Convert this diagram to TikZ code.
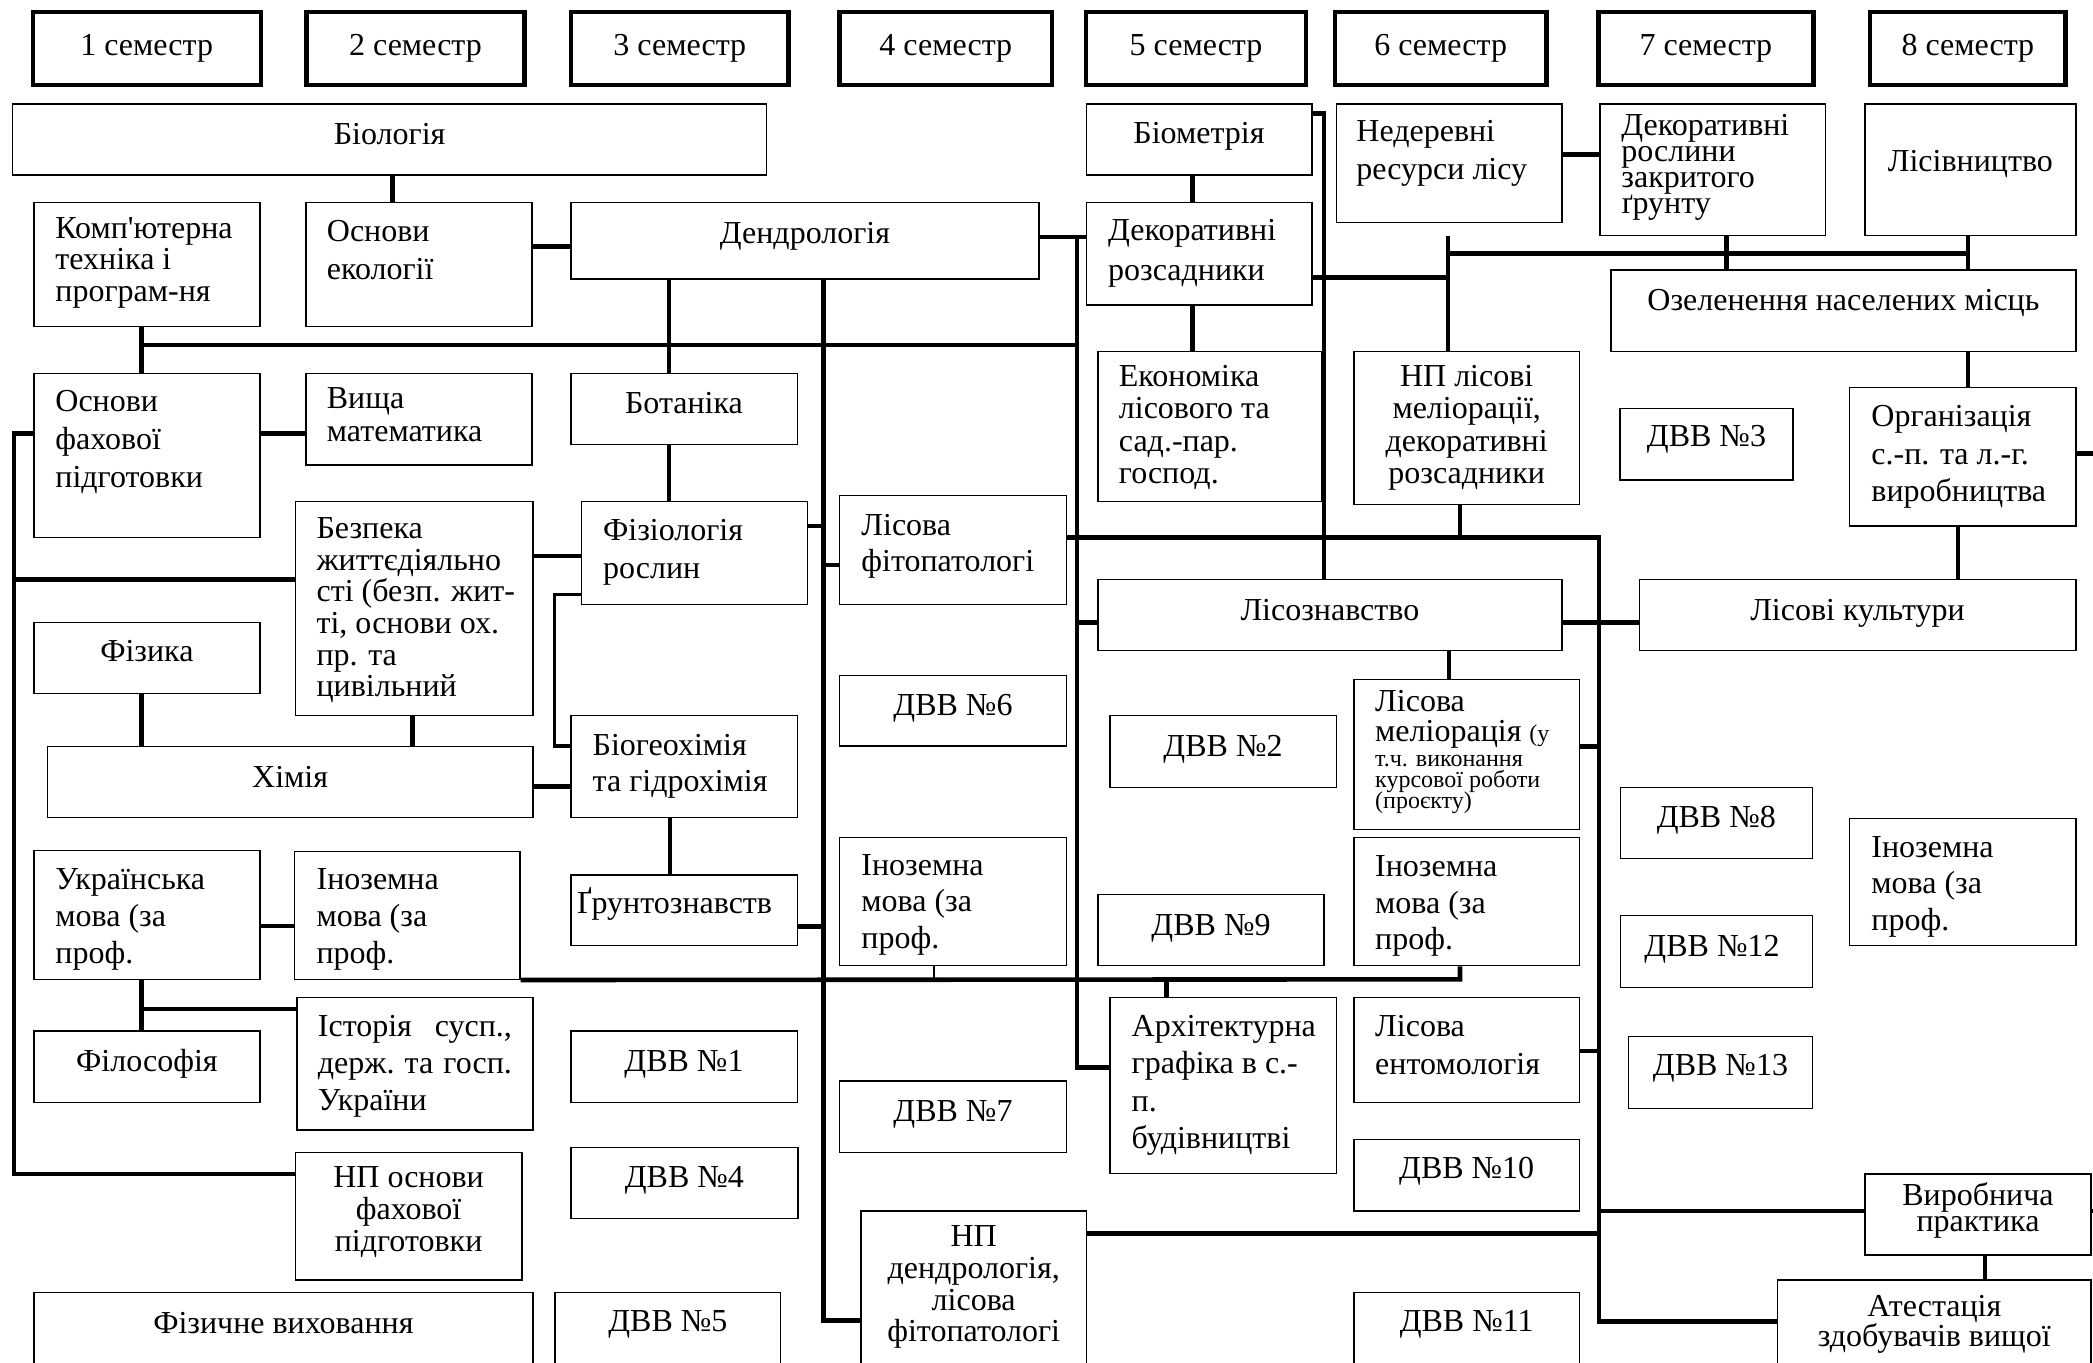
\documentclass[tikz,border=0pt]{standalone}
\usepackage{fontspec}
\setmainfont{Liberation Serif}[Ligatures=TeXOff]
\usetikzlibrary{fit}
\newcommand\mkbox[6][bx]{\node[#1, fit={(#3,#4) (#5,#6)}] (#2) {};}
\begin{document}
\begin{tikzpicture}[x=0.5pt,y=-0.5pt,
  bx/.style={draw, fill=white, line width=0.7pt, inner sep=0pt},
  sem/.style={draw, fill=white, line width=2.2pt, inner sep=0pt},
  conn/.style={line width=2.3pt, line join=miter},
  connm/.style={line width=1.7pt, line join=miter},
  connt/.style={line width=0.9pt},
  tl/.style={anchor=base west, align=flush left, inner sep=0pt, font={\fontsize{16}{#1}\selectfont\lineskiplimit=-50pt}},
  tl/.default=16,
  tc/.style={anchor=base, align=flush center, inner sep=0pt, font={\fontsize{16}{#1}\selectfont\lineskiplimit=-50pt}},
  tc/.default=16]
\useasboundingbox (0,0) rectangle (2093,1362);
\fill[white] (0,0) rectangle (2093,1362);
\clip (0,0) rectangle (2093,1362);

% ---------- semesters
\mkbox[sem]{s1}{32.7}{11.7}{260.7}{85}
\mkbox[sem]{s2}{306.5}{11.7}{524.5}{85}
\mkbox[sem]{s3}{571}{11.7}{788.6}{85}
\mkbox[sem]{s4}{839.6}{11.7}{1052}{85}
\mkbox[sem]{s5}{1085.8}{11.7}{1306.2}{85}
\mkbox[sem]{s6}{1335.2}{11.7}{1546.3}{85}
\mkbox[sem]{s7}{1598.4}{11.7}{1813.3}{85}
\mkbox[sem]{s8}{1870}{11.7}{2065.6}{85}
\node[tc, text width=110pt] (t-s1) at (146.7,55) {1 семестр};
\node[tc, text width=110pt] (t-s2) at (415.5,55) {2 семестр};
\node[tc, text width=110pt] (t-s3) at (679.8,55) {3 семестр};
\node[tc, text width=110pt] (t-s4) at (945.8,55) {4 семестр};
\node[tc, text width=110pt] (t-s5) at (1196,55) {5 семестр};
\node[tc, text width=110pt] (t-s6) at (1440.7,55) {6 семестр};
\node[tc, text width=110pt] (t-s7) at (1705.8,55) {7 семестр};
\node[tc, text width=110pt] (t-s8) at (1967.8,55) {8 семестр};

% ---------- boxes
\mkbox{bio}{12.7}{104}{766.6}{175}
\mkbox{comp}{33.8}{202.3}{260}{326.7}
\mkbox{ecol}{305.8}{202.3}{532}{326.7}
\mkbox{dendro}{571}{202.3}{1039}{279}
\mkbox{biom}{1086.5}{104}{1312}{175}
\mkbox{dekroz}{1086.5}{202.3}{1312}{305}
\mkbox{nederev}{1336.2}{104}{1561.8}{222.3}
\mkbox{drzg}{1599.8}{104}{1825.2}{235.7}
\mkbox{lisivn}{1865}{104}{2075.8}{235.7}
\mkbox{ozel}{1611}{270}{2075.8}{351.7}
\mkbox{ofah}{33.8}{373.3}{260}{537.7}
\mkbox{vyshmat}{305.8}{373.3}{532}{465}
\mkbox{botan}{571}{373.3}{797.2}{444.3}
\mkbox{ekon}{1097.9}{351.7}{1321.4}{501.7}
\mkbox{nplis}{1354}{351.7}{1579.4}{504.3}
\mkbox{orgsp}{1849.7}{387.7}{2075.8}{526}
\mkbox{dvv3}{1620}{408.3}{1793}{480}
\mkbox{bezp}{295.5}{501.7}{533.1}{715.7}
\mkbox{fiziol}{581.3}{501.7}{807.6}{604.3}
\mkbox{lfito}{839.6}{495.7}{1066.5}{604.3}
\mkbox{lisozn}{1097.9}{579.3}{1561.8}{650.7}
\mkbox{lkult}{1639.2}{579.3}{2075.8}{650.7}
\mkbox{fizyka}{33.8}{622.3}{260}{693.3}
\mkbox{dvv6}{839.6}{675.7}{1066.5}{746}
\mkbox{biogeo}{571}{715.7}{797.2}{817.7}
\mkbox{dvv2}{1110}{715.7}{1336.2}{787.3}
\mkbox{lmel}{1354}{679.3}{1579.4}{829.3}
\mkbox{khim}{47.2}{746.7}{533.1}{817.7}
\mkbox{dvv8}{1620.2}{787.3}{1812.3}{858.3}
\mkbox{ukr}{33.8}{850.7}{260}{979.3}
\mkbox{inozA}{294.5}{851.7}{520}{979.3}
\mkbox{grunt}{571}{875}{797.2}{945.7}
\mkbox{inozB}{839.6}{837.7}{1066.5}{965.7}
\mkbox{dvv9}{1097.9}{894.3}{1324.1}{965.7}
\mkbox{inozC}{1354}{837.7}{1579.4}{965.7}
\mkbox{inozD}{1849.7}{818.3}{2075.8}{945.7}
\mkbox{dvv12}{1620.2}{915.7}{1812.3}{987.3}
\mkbox{fil}{33.8}{1031}{260}{1102.3}
\mkbox{ist}{296.9}{997.7}{533.1}{1130}
\mkbox{dvv1}{571}{1031}{797.2}{1102.3}
\mkbox{arch}{1110}{997.7}{1336.2}{1173.3}
\mkbox{lent}{1354}{997.7}{1579.4}{1102.3}
\mkbox{dvv13}{1628.7}{1036.7}{1812.3}{1108.3}
\mkbox{dvv7}{839.6}{1081}{1066.5}{1152.3}
\mkbox{npofp}{295.5}{1152.3}{521.8}{1280}
\mkbox{dvv4}{571}{1147.3}{797.8}{1218.3}
\mkbox{dvv10}{1354}{1139.3}{1579.4}{1211}
\mkbox{vyrob}{1865}{1174}{2091}{1255}
\mkbox{npdend}{861}{1211}{1086.5}{1372}
\mkbox{dvv5}{555.1}{1292.7}{780.7}{1372}
\mkbox{fizvykh}{33.8}{1292.7}{533.1}{1372}
\mkbox{dvv11}{1354}{1292.7}{1579.4}{1372}
\mkbox{atest}{1777.6}{1280}{2091}{1372}

% ---------- connectors
\coordinate (hA) at (141.2,345);
\coordinate (hB) at (1076.8,345);
\coordinate (L1) at (13.8,433.3);
\coordinate (L2) at (13.8,1174);
\coordinate (L3) at (13.8,579.3);
\coordinate (V1) at (823.5,1320.7);
\coordinate (V2t) at (1076.8,237);
\coordinate (V2b) at (1076.8,1067.7);
\coordinate (V3) at (1324,113.3);
\coordinate (V4t) at (1599,537.3);
\coordinate (V4b) at (1599,1321.7);
\coordinate (Ha) at (1460,979.3);
\coordinate (Hr) at (1448,253.3);
\coordinate (Hr2) at (1968,253.3);

\draw[conn] (bio.south -| 392.6,0) -- (ecol.north -| 392.6,0);
\draw[conn] (comp.south -| 141.2,0) -- (ofah.north -| 141.2,0);
\draw[conn] (hA) -- (hB);
\draw[conn] (ecol.east |- 0,246.7) -- (dendro.west |- 0,246.7);
\draw[conn] (ofah.east |- L1) -- (vyshmat.west |- L1);
\draw[conn] (ofah.west |- L1) -- (L1) -- (L2) -- (npofp.west |- L2);
\draw[conn] (L3) -- (bezp.west |- L3);
\draw[conn] (dendro.south -| 669,0) -- (botan.north -| 669,0);
\draw[conn] (botan.south -| 669,0) -- (fiziol.north -| 669,0);
\draw[conn] (dendro.south -| V1) -- (V1) -- (npdend.west |- V1);
\draw[conn] (fiziol.east |- 0,526) -- (V1 |- 0,526);
\draw[conn] (V1 |- 0,565) -- (lfito.west |- 0,565);
\draw[conn] (grunt.east |- 0,926.7) -- (V1 |- 0,926.7);
\draw[conn] (bezp.east |- 0,556) -- (fiziol.west |- 0,556);
\draw[connm] (fiziol.west |- 0,594.3) -- (554.4,594.3) -- (554.4,746) -- (biogeo.west |- 0,746);
\draw[conn] (khim.east |- 0,786.7) -- (biogeo.west |- 0,786.7);
\draw[conn] (biogeo.south -| 669.8,0) -- (grunt.north -| 669.8,0);
\draw[conn] (fizyka.south -| 141.2,0) -- (khim.north -| 141.2,0);
\draw[conn] (bezp.south -| 412.3,0) -- (khim.north -| 412.3,0);
\draw[conn] (ukr.east |- 0,926) -- (inozA.west |- 0,926);
\draw[conn] (ukr.south -| 141.2,0) -- (fil.north -| 141.2,0);
\draw[conn] (141.2,1009) -- (ist.west |- 0,1009);
\draw[conn] (inozA.south east) -- (Ha) -- (inozC.south -| Ha);
\draw[connt] (inozB.south -| 934.3,0) -- (934.3,979.3);
\draw[conn] (1166.7,979.3) -- (arch.north -| 1166.7,0);
\draw[conn] (dendro.east |- V2t) -- (dekroz.west |- V2t);
\draw[conn] (V2t) -- (V2b) -- (arch.west |- V2b);
\draw[conn] (V2t |- 0,622.3) -- (lisozn.west |- 0,622.3);
\draw[conn] (biom.east |- V3) -- (V3) -- (lisozn.north -| V3);
\draw[conn] (biom.south -| 1192.6,0) -- (dekroz.north -| 1192.6,0);
\draw[conn] (dekroz.south -| 1192.6,0) -- (ekon.north -| 1192.6,0);
\draw[conn] (dekroz.east |- 0,277.7) -- (1448,277.7);
\draw[conn] (1448,235.7) -- (nplis.north -| 1448,0);
\draw[conn] (Hr) -- (Hr2);
\draw[conn] (drzg.south -| 1726.6,0) -- (ozel.north -| 1726.6,0);
\draw[conn] (lisivn.south -| Hr2) -- (ozel.north -| Hr2);
\draw[conn] (ozel.south -| Hr2) -- (orgsp.north -| Hr2);
\draw[conn] (orgsp.south -| 1957.8,0) -- (lkult.north -| 1957.8,0);
\draw[conn] (orgsp.east |- 0,453.3) -- (2100,453.3);
\draw[conn] (nederev.east |- 0,154.3) -- (drzg.west |- 0,154.3);
\draw[conn] (lfito.east |- V4t) -- (V4t) -- (V4b) -- (atest.west |- V4b);
\draw[conn] (nplis.south -| 1460,0) -- (1460,537.3);
\draw[conn] (lisozn.east |- 0,622.3) -- (lkult.west |- 0,622.3);
\draw[conn] (lisozn.south -| 1449,0) -- (lmel.north -| 1449,0);
\draw[conn] (lmel.east |- 0,746.7) -- (V4t |- 0,746.7);
\draw[conn] (lent.east |- 0,1051) -- (V4t |- 0,1051);
\draw[conn] (V4t |- 0,1211) -- (vyrob.west |- 0,1211);
\draw[conn] (npdend.east |- 0,1233.3) -- (V4t |- 0,1233.3);
\draw[conn] (vyrob.south -| 1985,0) -- (atest.north -| 1985,0);
\draw[conn] (vyrob.east |- 0,1211) -- (2100,1211);

% ---------- texts
\node[tc, text width=377pt] (t-bio) at (389.6,144) {Біологія};
\node[tl=15.85, text width=110pt] (t-comp) at (55,238) {Комп'ютерна\\техніка і\\програм-ня};
\node[tl=19, text width=100pt] (t-ecol) at (326.5,241.7) {Основи\\екології};
\node[tc, text width=234pt] (t-dendro) at (805,243.3) {Дендрологія};
\node[tc, text width=113pt] (t-botan) at (684,413.3) {Ботаніка};
\node[tl=19, text width=100pt] (t-ofah) at (55,411.7) {Основи\\фахової\\підготовки};
\node[tl=16.7, text width=100pt] (t-vyshmat) at (326.5,408.3) {Вища\\математика};
\node[tc, text width=112pt] (t-biom) at (1199,143.3) {Біометрія};
\node[tl=20, text width=100pt] (t-dekroz) at (1107.8,240) {Декоративні\\розсадники};
\node[tl=16.1, text width=100pt] (t-ekon) at (1118.5,386.7) {Економіка\\лісового та\\сад.-пар.\\господ.};
\node[tl=19, text width=100pt] (t-nederev) at (1356,141.7) {Недеревні\\ресурси лісу};
\node[tc=16.1, text width=112pt] (t-nplis) at (1466.7,386.7) {НП лісові\\меліорації,\\декоративні\\розсадники};
\node[tl=13, text width=100pt] (t-drzg) at (1621,135) {Декоративні\\рослини\\закритого\\ґрунту};
\node[tc, text width=105pt] (t-lisivn) at (1970.4,171.7) {Лісівництво};
\node[tc, text width=232pt] (t-ozel) at (1843.4,310) {Озеленення населених місць};
\node[tl=18.75, text width=100pt] (t-orgsp) at (1871,426.7) {Організація\\с.-п. та л.-г.\\виробництва};
\node[tc, text width=86pt] (t-dvv3) at (1706.5,446) {ДВВ №3};
\node[tl=15.85, text width=106pt] (t-bezp) at (316.2,538.3) {Безпека\\життєдіяльно\\сті (безп. жит-\\ті, основи ох.\\пр. та\\цивільний};
\node[tl=19, text width=100pt] (t-fiziol) at (602.7,540) {Фізіологія\\рослин};
\node[tl=18.3, text width=100pt] (t-lfito) at (861,535) {Лісова\\фітопатологі};
\node[tc, text width=232pt] (t-lisozn) at (1329.9,620) {Лісознавство};
\node[tc, text width=218pt] (t-lkult) at (1857.5,620) {Лісові культури};
\node[tc, text width=113pt] (t-fizyka) at (146.9,661.7) {Фізика};
\node[tc, text width=113pt] (t-dvv6) at (953,715) {ДВВ №6};
\node[tl=18.3, text width=100pt] (t-biogeo) at (592.3,755) {Біогеохімія\\та гідрохімія};
\node[tc, text width=113pt] (t-dvv2) at (1223,756.7) {ДВВ №2};
\node[tl=15, text width=100pt] (t-lmel) at (1374.8,711.7) {Лісова\\меліорація {\fontsize{12}{15}\selectfont(у}};
\node[tl, font={\fontsize{12}{10.5}\selectfont\lineskiplimit=-50pt}, text width=100pt] (t-lmel2) at (1374.8,766) {т.ч. виконання\\курсової роботи\\(проєкту)};
\node[tc, text width=243pt] (t-khim) at (290.1,787.3) {Хімія};
\node[tc, text width=96pt] (t-dvv8) at (1716.3,827.3) {ДВВ №8};
\node[tl=18.5, text width=100pt] (t-ukr) at (55,889.3) {Українська\\мова (за\\проф.};
\node[tl=18.5, text width=100pt] (t-inozA) at (316.2,889.3) {Іноземна\\мова (за\\проф.};
\node[tl, text width=110pt] (t-grunt) at (576.8,913.3) {Ґрунтознавств};
\node[tl=18.3, text width=100pt] (t-inozB) at (861,875) {Іноземна\\мова (за\\проф.};
\node[tc, text width=113pt] (t-dvv9) at (1211,935) {ДВВ №9};
\node[tl=18.3, text width=100pt] (t-inozC) at (1374.8,876.7) {Іноземна\\мова (за\\проф.};
\node[tl=18.2, text width=100pt] (t-inozD) at (1871,857.3) {Іноземна\\мова (за\\проф.};
\node[tc, text width=96pt] (t-dvv12) at (1712,956.7) {ДВВ №12};
\node[tc, text width=113pt] (t-fil) at (146.9,1071.7) {Філософія};
\node[tl=18.5, text width=97pt] (t-ist) at (317.5,1036.7) {Історія\hfill сусп.,\\держ.\hfill та\hfill госп.\\України};
\node[tc, text width=113pt] (t-dvv1) at (684,1071.7) {ДВВ №1};
\node[tl=18.6, text width=100pt] (t-arch) at (1131.3,1036.7) {Архітектурна\\графіка в с.-\\п.\\будівництві};
\node[tl=19, text width=100pt] (t-lent) at (1374.8,1036.7) {Лісова\\ентомологія};
\node[tc, text width=92pt] (t-dvv13) at (1720.5,1075) {ДВВ №13};
\node[tc, text width=113pt] (t-dvv7) at (953,1121.7) {ДВВ №7};
\node[tc, text width=113pt] (t-npofp) at (408.6,1187.3) {НП основи\\фахової\\підготовки};
\node[tc, text width=113pt] (t-dvv4) at (684.4,1187.3) {ДВВ №4};
\node[tc, text width=112pt] (t-dvv10) at (1466.7,1178.3) {ДВВ №10};
\node[tc=13.3, text width=113pt] (t-vyrob) at (1978,1205) {Виробнича\\практика};
\node[tc=15.85, text width=112pt] (t-npdend) at (973.7,1246.7) {НП\\дендрологія,\\лісова\\фітопатологі};
\node[tc, text width=250pt] (t-fizvykh) at (283.4,1333.3) {Фізичне виховання};
\node[tc, text width=113pt] (t-dvv5) at (667.9,1331.7) {ДВВ №5};
\node[tc, text width=112pt] (t-dvv11) at (1466.7,1331.7) {ДВВ №11};
\node[tc=15, text width=156pt] (t-atest) at (1934.3,1316.7) {Атестація\\здобувачів вищої};
\end{tikzpicture}
\end{document}
